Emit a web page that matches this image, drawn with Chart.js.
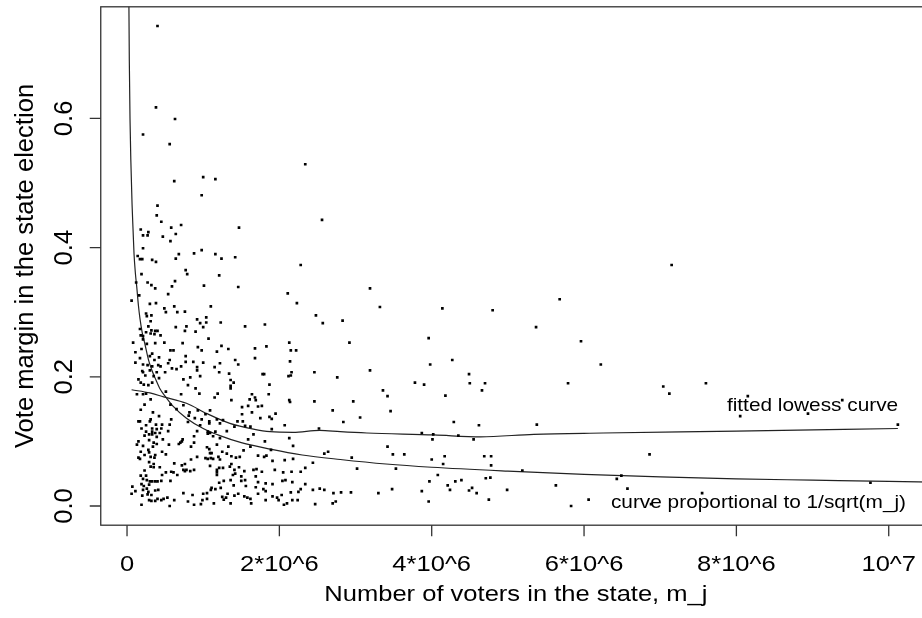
<!DOCTYPE html>
<html lang="en">
<head>
<meta charset="UTF-8">
<title>Vote margin vs number of voters</title>
<style>
  html, body { margin: 0; padding: 0; background: #fff; overflow: hidden; }
  #wrap { position: relative; width: 940px; height: 618px; }
</style>
<script src="https://cdn.jsdelivr.net/npm/chart.js"></script>
</head>
<body>
<div id="wrap"><canvas id="chart" width="940" height="618"></canvas></div>
<script>
// State elections: [number of voters (millions), vote margin]
const statePoints = [
  [0.40,0.743],[0.38,0.617],[0.63,0.599],[0.21,0.575],[0.56,0.560],[2.34,0.529],[1.00,0.509],[1.16,0.506],
  [0.62,0.503],[0.98,0.481],[0.40,0.465],[0.39,0.450],[0.45,0.440],[2.56,0.443],[0.71,0.435],[0.58,0.431],
  [0.18,0.428],[1.47,0.431],[0.28,0.424],[0.21,0.419],[0.27,0.419],[0.47,0.417],[0.64,0.421],[0.57,0.410],
  [0.21,0.399],[0.98,0.396],[0.88,0.391],[0.68,0.390],[1.16,0.390],[0.14,0.387],[1.42,0.385],[0.64,0.383],
  [0.17,0.382],[0.20,0.382],[0.33,0.381],[1.24,0.383],
  [0.38,0.378],[2.28,0.373],[0.77,0.365],[0.79,0.359],[0.19,0.359],[1.21,0.357],[0.63,0.348],[0.12,0.346],
  [0.27,0.346],[0.32,0.342],[0.59,0.340],[1.01,0.341],[1.46,0.339],[0.37,0.337],[0.54,0.328],[2.11,0.329],
  [0.16,0.326],[0.06,0.318],[0.30,0.313],[0.38,0.314],[2.23,0.314],[0.62,0.309],[1.10,0.309],[0.49,0.306],
  [0.25,0.298],[0.32,0.295],[0.26,0.294],[0.51,0.300],[0.66,0.300],[0.76,0.301],[2.48,0.295],[0.92,0.289],
  [1.04,0.292],[0.31,0.286],[0.96,0.283],[1.04,0.284],[1.23,0.284],[2.57,0.283],[1.81,0.281],[0.28,0.278],
  [0.64,0.277],[0.78,0.278],[1.00,0.277],[1.55,0.278],[0.17,0.274],[0.32,0.272],[0.37,0.271],[0.40,0.271],
  [0.76,0.271],[0.90,0.270],[0.25,0.269],[0.31,0.267],[0.44,0.264],[0.18,0.264],[0.21,0.263],[0.36,0.266],
  [1.07,0.259],[0.21,0.258],[0.08,0.253],[0.26,0.251],[0.37,0.252],[0.49,0.253],[0.73,0.252],[1.24,0.248],
  [2.13,0.253],[1.83,0.247],[0.93,0.246],[0.98,0.241],[1.18,0.239],[1.33,0.243],[0.57,0.241],[0.61,0.241],
  [1.68,0.244],[2.15,0.241],[2.22,0.241],[0.11,0.238],[0.19,0.243],[0.33,0.236],[0.30,0.232],[0.42,0.230],
  [0.77,0.232],[1.68,0.229],[0.17,0.229],[0.36,0.226],[0.56,0.226],[0.77,0.223],[0.87,0.223],[1.00,0.222],
  [1.42,0.226],[2.14,0.224],[1.22,0.221],[1.46,0.219],[0.11,0.222],[0.21,0.219],[0.27,0.218],[0.41,0.218],
  [0.44,0.216],[0.54,0.221],[0.33,0.216],[0.71,0.216],[0.92,0.215],[0.92,0.210],[1.15,0.215],[0.59,0.213],
  [0.65,0.212],[0.30,0.210],[0.20,0.209],[0.21,0.207],[0.39,0.207],[0.50,0.207],[1.21,0.207],[1.34,0.205],
  [1.78,0.204],[1.80,0.204],[2.16,0.207],[2.15,0.202],[2.12,0.201],[2.46,0.207],[2.76,0.199],[0.24,0.202],
  [0.35,0.201],[0.83,0.199],[0.96,0.201],[0.15,0.196],[0.42,0.198],[0.74,0.196],[1.36,0.195],[1.40,0.191],
  [1.36,0.186],[1.36,0.182],[0.18,0.191],[0.22,0.188],[0.28,0.187],[0.33,0.191],[1.87,0.188],[0.80,0.187],
  [0.90,0.182],
  [0.13,0.173],[0.21,0.173],[0.25,0.174],[0.51,0.177],[0.71,0.173],[0.95,0.174],[1.19,0.174],[1.15,0.168],
  [1.64,0.173],[1.68,0.168],[1.86,0.173],[1.37,0.164],[1.61,0.165],[1.69,0.164],[2.13,0.164],[2.14,0.161],
  [2.46,0.162],[0.31,0.165],[0.57,0.157],[0.74,0.156],[0.23,0.157],[1.51,0.153],[1.59,0.155],[1.72,0.154],
  [1.77,0.155],[0.18,0.149],[0.65,0.150],[0.93,0.148],[1.09,0.148],[1.64,0.145],[0.34,0.145],[0.82,0.145],
  [0.81,0.140],[1.51,0.142],[1.95,0.143],[2.70,0.148],[0.42,0.139],[1.03,0.142],[1.87,0.138],[1.90,0.135],
  [0.58,0.134],[0.89,0.136],[0.98,0.134],[1.18,0.134],[1.26,0.133],[0.31,0.134],[0.30,0.131],[0.15,0.131],
  [0.17,0.131],[1.75,0.136],[1.45,0.131],[1.52,0.131],[0.80,0.130],[1.08,0.131],[1.08,0.128],[1.22,0.128],
  [0.56,0.126],[0.25,0.125],[0.38,0.126],[0.46,0.126],[0.96,0.125],[1.41,0.123],[2.07,0.125],[0.33,0.120],
  [0.39,0.119],[0.45,0.120],[1.55,0.124],[1.62,0.123],[1.90,0.119],[2.52,0.120],[0.19,0.120],[0.25,0.115],
  [0.33,0.115],[0.37,0.113],[0.43,0.113],[0.54,0.116],[0.92,0.116],[1.06,0.115],[1.06,0.112],[1.09,0.113],
  [1.16,0.115],[1.31,0.116],[0.29,0.111],[0.33,0.111],[0.23,0.109],[1.66,0.111],[0.88,0.108],[1.13,0.108],
  [0.39,0.107],[0.47,0.103],[0.29,0.102],[0.73,0.103],[0.72,0.100],[0.70,0.098],[0.68,0.096],[1.22,0.105],
  [1.59,0.103],[1.81,0.100],[2.13,0.105],[0.15,0.100],[0.13,0.095],[0.21,0.093],[0.35,0.098],[0.39,0.096],
  [0.55,0.095],[0.88,0.098],[1.18,0.095],[0.34,0.092],[1.33,0.092],[2.18,0.093],[0.28,0.087],[1.05,0.091],
  [1.08,0.088],[0.84,0.092],[1.62,0.092],[1.89,0.087],[0.18,0.084],[0.29,0.083],[0.46,0.084],[1.09,0.082],
  [1.11,0.082],[1.25,0.084],[1.31,0.081],[1.53,0.086],[2.59,0.081],[2.64,0.084],[0.23,0.079],[0.37,0.079],
  [0.51,0.080],[0.92,0.076],[1.37,0.077],[1.43,0.075],[1.48,0.076],[1.72,0.078],[1.83,0.078],[1.80,0.076],
  [0.15,0.075],[0.17,0.073],[0.31,0.076],[0.36,0.075],[0.84,0.072],[1.03,0.074],[1.06,0.073],[1.10,0.074],
  [1.13,0.073],[1.20,0.076],[1.22,0.072],[1.91,0.070],[2.07,0.071],[2.18,0.073],[2.44,0.067],[0.29,0.068],
  [0.35,0.065],[0.31,0.061],[0.35,0.060],[0.62,0.066],[0.72,0.063],[0.76,0.065],[1.37,0.065],[0.43,0.060],
  [0.23,0.055],[0.51,0.052],[0.58,0.053],[0.61,0.052],[0.74,0.056],[0.76,0.054],[0.78,0.056],[0.83,0.054],
  [0.88,0.056],[1.09,0.062],[1.18,0.056],[1.21,0.059],[1.18,0.052],[1.18,0.048],[1.26,0.059],[1.35,0.061],
  [1.41,0.056],[1.47,0.060],[1.54,0.054],[1.66,0.056],[1.70,0.057],[1.77,0.053],[1.94,0.056],[2.05,0.052],
  [2.16,0.053],[2.34,0.059],[2.28,0.053],[0.18,0.047],[0.25,0.047],[0.21,0.042],[0.66,0.048],[0.46,0.048],
  [1.39,0.048],[1.42,0.050],[1.50,0.046],[1.69,0.046],[0.26,0.040],[0.30,0.038],[0.33,0.038],[0.37,0.038],
  [0.40,0.038],[0.45,0.039],[0.57,0.039],[1.27,0.039],[1.36,0.040],[1.50,0.039],[1.55,0.040],[1.72,0.037],
  [1.82,0.035],[1.91,0.034],[2.04,0.039],[2.08,0.040],[2.17,0.037],[1.21,0.036],[0.19,0.034],[0.22,0.031],
  [0.29,0.033],[0.07,0.030],[1.40,0.032],[1.56,0.031],[2.34,0.034],[2.28,0.026],[1.69,0.029],[1.79,0.026],
  [1.82,0.023],[1.11,0.028],[1.16,0.026],[1.10,0.025],[1.23,0.028],[0.11,0.023],[0.06,0.019],[0.21,0.025],
  [0.26,0.027],[0.28,0.022],[0.37,0.024],[0.41,0.025],[0.74,0.020],[0.86,0.017],[1.00,0.019],[1.05,0.020],
  [1.32,0.019],[1.41,0.016],[1.46,0.019],[1.54,0.015],[1.72,0.019],[1.91,0.015],[2.03,0.017],[2.15,0.021],
  [2.25,0.022],[2.44,0.025],[2.53,0.027],[2.59,0.025],[2.71,0.020],[0.20,0.016],[0.27,0.018],[0.32,0.017],
  [0.40,0.011],[0.37,0.008],[0.45,0.009],[0.48,0.011],[0.53,0.013],[0.29,0.009],[0.32,0.008],[0.62,0.009],
  [0.80,0.007],[0.88,0.002],[0.97,0.003],[1.05,0.011],[1.25,0.014],[1.27,0.010],[1.30,0.013],[1.14,0.004],
  [1.36,0.004],[1.58,0.013],[1.62,0.011],[1.63,0.004],[1.82,0.009],[1.97,0.013],[1.99,0.009],[2.06,0.002],
  [2.10,0.004],[2.17,0.009],[2.24,0.009],[2.47,0.003],[2.70,0.004],[0.19,0.002],[0.56,0.000],[0.99,0.009],
  [3.19,0.337],[3.32,0.308],[2.83,0.287],[4.14,0.306],[4.80,0.303],[5.68,0.320],[5.37,0.277],[5.96,0.255],
  [2.92,0.253],[3.96,0.260],[4.27,0.226],[3.98,0.219],[6.22,0.219],[3.19,0.210],[4.49,0.204],[3.78,0.191],
  [3.90,0.188],[4.50,0.190],[4.70,0.190],[5.79,0.190],[3.36,0.179],[3.42,0.170],[4.18,0.171],[4.66,0.179],
  [2.97,0.162],[3.06,0.137],[3.46,0.147],[2.84,0.130],[4.29,0.130],[4.62,0.125],[5.38,0.126],[3.87,0.113],
  [4.02,0.111],[4.01,0.103],[4.35,0.109],[4.55,0.103],[3.42,0.092],[3.49,0.080],[3.64,0.080],[2.95,0.075],
  [4.17,0.077],[4.00,0.072],[4.69,0.077],[4.78,0.077],[4.15,0.065],[4.78,0.063],[5.19,0.055],[3.02,0.058],
  [3.53,0.058],[4.08,0.048],[3.97,0.038],[4.21,0.032],[4.24,0.025],[4.31,0.038],[4.39,0.040],[4.71,0.043],
  [4.77,0.044],[4.99,0.025],[5.63,0.032],[2.81,0.021],[2.94,0.021],[3.30,0.020],[3.48,0.026],[3.87,0.023],
  [4.49,0.024],[4.53,0.028],[4.59,0.020],[2.74,0.007],[3.96,0.007],[4.75,0.010],[5.83,0.000],[6.06,0.010],
  [6.43,0.042],[7.04,0.185],[7.12,0.174],[7.60,0.190],[8.05,0.139],[8.94,0.143],[9.39,0.164],[10.12,0.126],
  [6.86,0.080],[6.49,0.047],[6.57,0.027],[9.76,0.036],[6.88,0.003],[7.55,0.020],[7.15,0.373],[8.15,0.170]
];

// fitted lowess curve
const lowessX = [0.06, 0.30, 0.48, 0.78, 1.05, 1.35, 1.66, 1.88, 2.18, 2.53, 2.80, 3.15, 4.03, 4.64, 5.34, 6.25, 8.00, 10.12];
const lowessY = [0.180, 0.175, 0.169, 0.159, 0.143, 0.128, 0.119, 0.115, 0.114, 0.117, 0.115, 0.113, 0.110, 0.107, 0.111, 0.113, 0.116, 0.120];

// curve proportional to 1/sqrt(m_j)
const sqrtCurveX = [0.015, 0.02, 0.03, 0.039, 0.05, 0.066, 0.08, 0.092, 0.11, 0.127, 0.15, 0.17, 0.20, 0.236, 0.28, 0.324, 0.38, 0.43,
	0.50, 0.60, 0.78, 1.00, 1.22, 1.50, 1.88, 2.30, 2.80, 3.40, 4.00, 5.00, 6.00, 7.00, 8.00, 9.00, 10.0, 10.6];
const sqrtCurveY = [0.96, 0.85, 0.69, 0.60, 0.535, 0.467, 0.425, 0.39, 0.36, 0.34, 0.31, 0.29, 0.268, 0.25, 0.227, 0.211, 0.195, 0.182,
	0.170, 0.155, 0.136, 0.120, 0.109, 0.098, 0.088, 0.079, 0.072, 0.065, 0.060, 0.054, 0.049, 0.045, 0.042, 0.040, 0.038, 0.037];

const xTicks = [0, 2, 4, 6, 8, 10];
const xTickLabels = ["0", "2*10^6", "4*10^6", "6*10^6", "8*10^6", "10^7"];
const yTicks = [0, 0.2, 0.4, 0.6];
const yTickLabels = ["0.0", "0.2", "0.4", "0.6"];
const curveLabels = ["fitted lowess curve", "curve proportional to 1/sqrt(m_j)"];

// horizontal text in the reference is a little wider than it is tall
const X_STRETCH = 1.12;
const FONT = '"Liberation Sans", Arial, Helvetica, sans-serif';

function drawText(ctx, text, x, y, size, rotated, sx) {
	ctx.save();
	ctx.translate(x, y);
	ctx.scale(sx, 1);
	if (rotated) ctx.rotate(-Math.PI / 2);
	ctx.font = `${size}px ${FONT}`;
	ctx.textAlign = "center";
	ctx.textBaseline = "alphabetic";
	ctx.fillStyle = "#000";
	ctx.fillText(text, 0, 0);
	ctx.restore();
}

// R style frame, axes and labels
const baseAxes = {
	id: "baseAxes",
	afterDraw(chart) {
		const { ctx, chartArea: area, scales } = chart;
		const xs = scales.x;
		const ys = scales.y;

		ctx.save();
		ctx.strokeStyle = "#333";
		ctx.lineWidth = 1.3;
		ctx.strokeRect(area.left, area.top, area.right - area.left, area.bottom - area.top);

		// tick marks
		ctx.beginPath();
		xTicks.forEach((v) => {
			const px = xs.getPixelForValue(v);
			ctx.moveTo(px, area.bottom);
			ctx.lineTo(px, area.bottom + 11);
		});
		yTicks.forEach((v) => {
			const py = ys.getPixelForValue(v);
			ctx.moveTo(area.left, py);
			ctx.lineTo(area.left - 11, py);
		});
		ctx.stroke();
		ctx.restore();

		xTicks.forEach((v, i) => {
			drawText(ctx, xTickLabels[i], xs.getPixelForValue(v), 570.5, 22.8, false, X_STRETCH);
		});
		yTicks.forEach((v, i) => {
			drawText(ctx, yTickLabels[i], 71.5, ys.getPixelForValue(v), 25.6, true, 1);
		});

		// axis titles
		drawText(ctx, "Number of voters in the state, m_j", (area.left + area.right) / 2, 601, 22.8, false, X_STRETCH);
		drawText(ctx, "Vote margin in the state election", 33, (area.top + area.bottom) / 2, 25.6, true, 1);

		// curve labels
		drawText(ctx, curveLabels[0], xs.getPixelForValue(9.0), ys.getPixelForValue(0.1475), 18.6, false, X_STRETCH);
		drawText(ctx, curveLabels[1], xs.getPixelForValue(8.29), ys.getPixelForValue(-0.0036), 18.6, false, X_STRETCH);
	},
};

const ctx = document.getElementById("chart").getContext("2d");
new Chart(ctx, {
	type: "scatter",
	data: {
		datasets: [
			{
				label: "states",
				data: statePoints.map(([x, y]) => ({ x, y })),
				pointStyle: "rect",
				pointRadius: 1.9,
				pointBorderWidth: 0,
				backgroundColor: "#000",
				borderColor: "#000",
				showLine: false,
			},
			{
				label: "lowess",
				data: lowessX.map((x, i) => ({ x, y: lowessY[i] })),
				showLine: true,
				pointRadius: 0,
				borderColor: "#222",
				borderWidth: 1.2,
				cubicInterpolationMode: "monotone",
			},
			{
				label: "1/sqrt",
				data: sqrtCurveX.map((x, i) => ({ x, y: sqrtCurveY[i] })),
				showLine: true,
				pointRadius: 0,
				borderColor: "#222",
				borderWidth: 1.2,
				cubicInterpolationMode: "monotone",
			},
		],
	},
	options: {
		responsive: false,
		devicePixelRatio: 1,
		animation: false,
		layout: { padding: { left: 100.75, right: 9, top: 6.8, bottom: 92.8 } },
		scales: {
			x: { type: "linear", min: -0.345, max: 10.555, display: false },
			y: { type: "linear", min: -0.0297, max: 0.7727, display: false },
		},
		plugins: {
			legend: { display: false },
			tooltip: { enabled: false },
		},
	},
	plugins: [baseAxes],
});
</script>
</body>
</html>
